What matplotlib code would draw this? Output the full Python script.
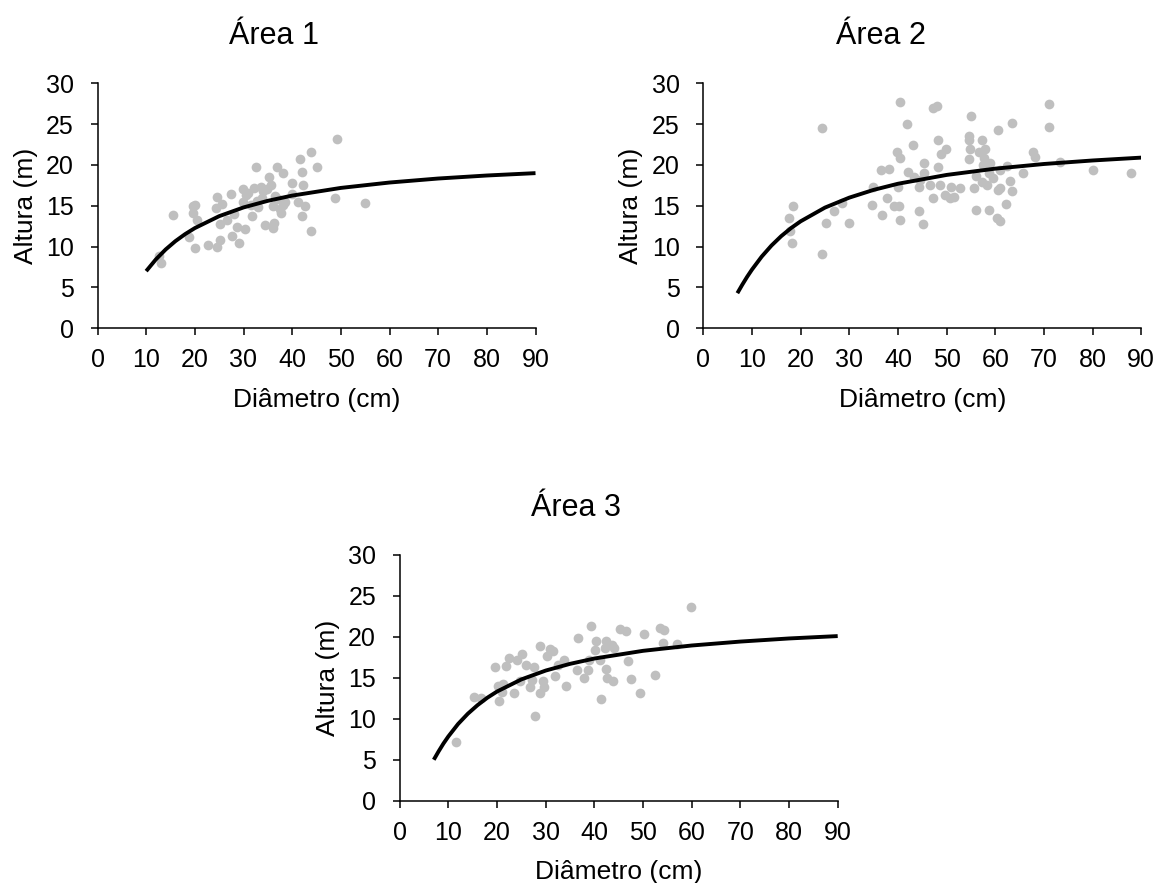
import matplotlib.pyplot as plt

plt.rcParams['font.family'] = ['Liberation Sans', 'DejaVu Sans']

# Área 1 - observed trees
diam1 = [49.2, 43.8, 41.7, 45.0, 32.5, 36.8, 38.1, 42.0, 35.3, 39.9, 42.2, 35.7, 33.5, 32.2,
         29.9, 27.5, 24.6, 30.6, 36.4, 40.0, 48.9, 54.9, 41.1, 42.6, 38.1, 36.1, 33.0, 31.6,
         29.9, 25.5, 24.4, 19.6, 20.1, 15.5, 19.7, 20.4, 25.1, 26.7, 31.8, 37.8, 37.6, 42.0,
         28.7, 30.3, 34.4, 36.2, 36.1, 43.8, 18.9, 27.7, 25.1, 29.0, 22.8, 24.6, 20.1, 12.7,
         13.1, 31.0, 33.8, 34.8, 37.0, 32.8, 38.5, 34.0, 28.0]
alt1 = [23.2, 21.6, 20.7, 19.7, 19.8, 19.7, 19.0, 19.2, 18.5, 17.8, 17.5, 17.6, 17.3, 17.2,
        17.1, 16.4, 16.1, 16.3, 16.2, 16.5, 16.0, 15.4, 15.5, 15.0, 15.1, 15.0, 14.9, 15.1,
        15.5, 15.2, 14.7, 15.0, 15.1, 13.9, 14.1, 13.3, 12.8, 13.3, 13.7, 14.1, 14.6, 13.8,
        12.4, 12.2, 12.6, 12.9, 12.3, 11.9, 11.2, 11.3, 10.8, 10.5, 10.2, 10.0, 9.8, 8.9,
        8.0, 16.6, 16.0, 17.0, 15.8, 15.6, 15.5, 16.8, 14.0]

# Área 2
diam2 = [40.5, 41.8, 24.4, 43.0, 39.9, 40.5, 36.6, 38.1, 42.1, 34.8, 40.1, 37.7, 28.5, 18.4,
         34.7, 39.1, 40.2, 26.9, 17.7, 36.8, 40.5, 25.2, 29.9, 17.8, 18.2, 24.3, 44.6,
         47.3, 48.1, 71.1, 71.1, 55.1, 63.5, 60.5, 48.2, 54.5, 54.5, 57.3, 49.9, 48.8, 54.7,
         56.6, 57.8, 57.7, 54.6, 58.9, 67.8, 68.2, 73.2, 80.0, 87.8, 45.3, 48.2, 45.4, 43.2,
         44.4, 46.5, 48.6, 50.8, 52.8, 55.7, 57.3, 58.7, 58.3, 60.9, 62.5, 63.0, 60.9, 60.5,
         63.5, 65.7, 47.3, 49.7, 50.7, 51.6, 44.4, 45.1, 56.1, 58.8, 62.2, 60.3, 60.9,
         56.0, 59.5, 57.5]
alt2 = [27.7, 25.0, 24.5, 22.5, 21.6, 20.8, 19.4, 19.5, 19.2, 17.3, 17.3, 16.0, 15.4, 15.0,
        15.1, 15.0, 15.0, 14.4, 13.5, 13.9, 13.3, 12.9, 12.9, 11.9, 10.4, 9.1, 18.2,
        27.0, 27.2, 27.5, 24.6, 26.0, 25.2, 24.3, 23.0, 23.5, 23.0, 23.0, 22.0, 21.4, 22.0,
        21.6, 21.9, 20.8, 20.7, 20.3, 21.6, 21.0, 20.4, 19.4, 19.0, 20.2, 19.8, 19.0, 18.5,
        17.3, 17.5, 17.5, 17.3, 17.2, 17.2, 17.9, 19.0, 17.6, 19.4, 19.9, 18.0, 17.2, 16.9,
        16.8, 19.0, 16.0, 16.3, 16.0, 16.1, 14.4, 12.8, 14.5, 14.5, 15.2, 13.5, 13.1,
        18.6, 18.4, 20.0]

# Área 3
diam3 = [59.9, 39.3, 45.2, 46.5, 53.4, 54.4, 50.3, 36.7, 40.4, 42.4, 43.6, 44.1, 54.1, 57.0,
         40.2, 42.2, 28.9, 30.9, 31.6, 30.2, 25.1, 22.5, 24.1, 21.9, 19.5, 33.7, 26.0, 27.5,
         32.6, 38.8, 41.2, 46.9, 36.4, 38.7, 42.4, 32.0, 29.5, 27.1, 24.7, 21.3, 20.3, 37.8,
         42.6, 43.8, 47.6, 52.5, 21.0, 23.4, 26.8, 28.9, 29.7, 34.1, 20.5, 15.3, 16.7, 41.3,
         49.3, 27.8, 11.6]
alt3 = [23.7, 21.3, 21.0, 20.7, 21.1, 20.8, 20.3, 19.9, 19.5, 19.5, 19.0, 18.7, 19.3, 19.1,
        18.4, 18.6, 18.9, 18.5, 18.3, 17.7, 17.9, 17.4, 17.2, 16.5, 16.3, 17.2, 16.6, 16.3,
        16.6, 17.2, 17.2, 17.0, 16.0, 16.0, 16.1, 15.2, 14.6, 14.7, 14.6, 14.3, 14.0, 15.0,
        15.0, 14.6, 14.8, 15.3, 13.3, 13.1, 13.9, 13.1, 13.9, 14.0, 12.2, 12.7, 12.5, 12.4,
        13.1, 10.4, 7.2]

# fitted curves
curve1_d = [10, 12, 14, 16, 18, 20, 25, 30, 35, 40, 50, 60, 70, 80, 90]
curve1_h = [7.0, 8.44, 9.65, 10.67, 11.53, 12.27, 13.73, 14.8, 15.61, 16.25, 17.19, 17.85,
            18.34, 18.71, 19.0]
curve2_d = [7, 8, 9, 10, 12, 14, 16, 18, 20, 25, 30, 35, 40, 50, 60, 70, 80, 90]
curve2_h = [4.3, 5.33, 6.3, 7.19, 8.78, 10.13, 11.28, 12.26, 13.1, 14.78, 16.0, 16.95, 17.7,
            18.78, 19.55, 20.12, 20.55, 20.9]
curve3_d = [7, 8, 9, 10, 12, 14, 16, 18, 20, 25, 30, 35, 40, 50, 60, 70, 80, 90]
curve3_h = [5.0, 6.03, 6.99, 7.85, 9.37, 10.62, 11.67, 12.57, 13.33, 14.81, 15.89, 16.71,
            17.36, 18.3, 18.95, 19.43, 19.81, 20.1]

titles = ['Área 1', 'Área 2', 'Área 3']

W, H = 1155, 883
fig = plt.figure(figsize=(W / 100, H / 100), dpi=100)

# axes boxes in pixels: left, top, right, bottom
boxes = [(97.5, 83.3, 535.5, 328.3), (703.3, 83.3, 1141.3, 328.3), (399.7, 555.0, 837.7, 800.7)]
title_pos = [(274, 44), (881, 44), (576, 516)]
data = [(diam1, alt1, curve1_d, curve1_h), (diam2, alt2, curve2_d, curve2_h),
        (diam3, alt3, curve3_d, curve3_h)]

for (l, t, r, b), (tx, ty), title, (d, h, cd, ch) in zip(boxes, title_pos, titles, data):
    ax = fig.add_axes([l / W, 1 - b / H, (r - l) / W, (b - t) / H])
    ax.plot(d, h, 'o', color='#BFBFBF', markersize=7.0, markeredgewidth=0, zorder=2)
    ax.plot(cd, ch, color='black', linewidth=2.8, solid_capstyle='butt', zorder=3)
    ax.set_xlim(0, 90)
    ax.set_ylim(0, 30)
    ax.set_xticks(range(0, 91, 10))
    ax.set_yticks(range(0, 31, 5))
    for s in ['top', 'right']:
        ax.spines[s].set_visible(False)
    for s in ['left', 'bottom']:
        ax.spines[s].set_linewidth(1.1)
    ax.tick_params(axis='both', direction='out', length=5, width=1.1, labelsize=18)
    ax.tick_params(axis='y', pad=12)
    ax.tick_params(axis='x', pad=9.5)
    ax.set_xlabel('Diâmetro (cm)', fontsize=19, labelpad=11)
    ax.set_ylabel('Altura (m)', fontsize=19, labelpad=6)
    fig.text(tx / W, 1 - ty / H, title, fontsize=22, ha='center', va='baseline')

fig.savefig('out.png', dpi=100)
